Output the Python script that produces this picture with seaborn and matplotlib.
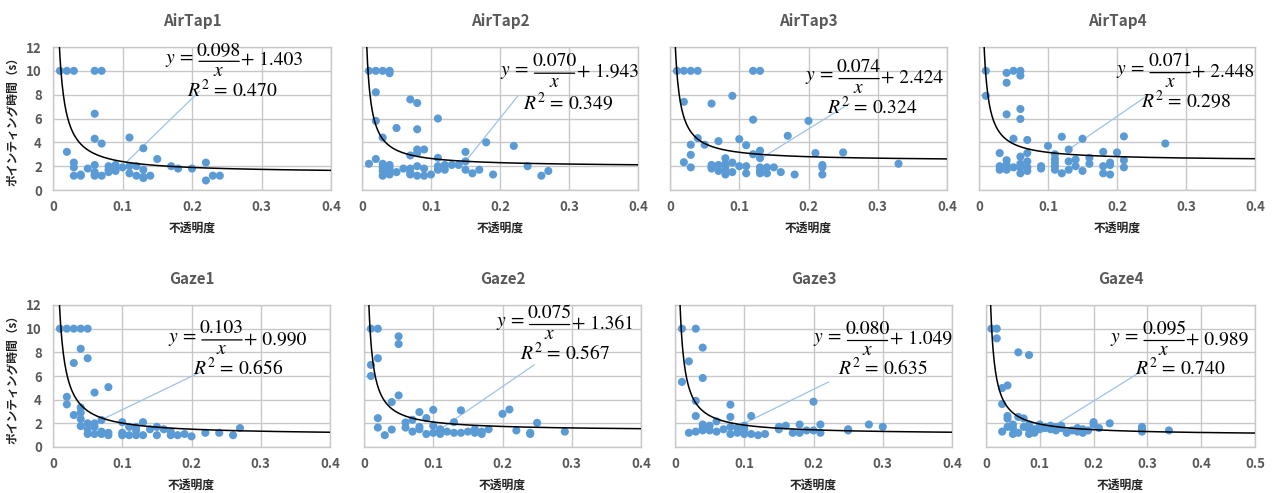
import numpy as np
import pandas as pd
import matplotlib
matplotlib.use('Agg')
import matplotlib.pyplot as plt
import matplotlib.transforms as mtransforms
import seaborn as sns

sns.set_style('white')
plt.rcParams['font.family'] = ['Noto Sans CJK JP', 'DejaVu Sans']
plt.rcParams['mathtext.fontset'] = 'stix'

# ---- data (opacity, pointing time in s) ----
airtap1_x = [0.01, 0.02, 0.03, 0.06, 0.07, 0.06, 0.06, 0.07, 0.11, 0.13, 0.02, 0.03, 0.03, 0.03,
             0.04, 0.04, 0.05, 0.06, 0.06, 0.06, 0.06, 0.07, 0.08, 0.08, 0.08, 0.09, 0.09, 0.09,
             0.10, 0.11, 0.11, 0.12, 0.12, 0.13, 0.13, 0.13, 0.14, 0.15, 0.17, 0.18, 0.20, 0.22,
             0.22, 0.23, 0.24]
airtap1_y = [10, 10, 10, 10, 10, 6.4, 4.3, 3.9, 4.4, 3.5, 3.2, 2.3, 1.9, 1.2,
             1.3, 1.2, 1.8, 2.1, 1.5, 1.3, 1.2, 1.2, 2.0, 1.7, 1.5, 2.1, 1.9, 1.6,
             1.9, 2.0, 1.4, 2.0, 1.2, 1.7, 1.1, 1.0, 1.2, 2.6, 2.0, 1.8, 1.8, 2.3,
             0.8, 1.2, 1.2]

airtap2_x = [0.01, 0.02, 0.03, 0.04, 0.04, 0.02, 0.07, 0.08, 0.02, 0.11, 0.05, 0.08, 0.03, 0.18,
             0.22, 0.08, 0.09, 0.08, 0.07, 0.15, 0.11, 0.15, 0.02, 0.01, 0.03, 0.03, 0.03, 0.03,
             0.04, 0.04, 0.04, 0.04, 0.05, 0.06, 0.07, 0.07, 0.07, 0.08, 0.08, 0.09, 0.09, 0.10,
             0.11, 0.11, 0.12, 0.12, 0.13, 0.14, 0.15, 0.16, 0.17, 0.19, 0.24, 0.26, 0.27]
airtap2_y = [10, 10, 10, 10, 9.8, 8.2, 7.6, 7.3, 5.8, 6.0, 5.2, 5.1, 4.4, 4.0,
             3.7, 3.4, 3.4, 3.1, 2.9, 3.2, 2.7, 2.4, 2.6, 2.2, 2.2, 1.9, 1.6, 1.2,
             2.1, 1.8, 1.5, 1.3, 1.5, 1.8, 1.8, 1.5, 1.3, 2.0, 1.2, 1.8, 1.2, 1.3,
             2.0, 1.7, 2.1, 1.7, 2.1, 2.1, 1.7, 1.4, 1.7, 1.3, 2.0, 1.2, 1.6]

airtap3_x = [0.01, 0.02, 0.03, 0.04, 0.12, 0.13, 0.02, 0.06, 0.09, 0.12, 0.20, 0.17, 0.04, 0.07,
             0.10, 0.03, 0.05, 0.11, 0.13, 0.12, 0.03, 0.13, 0.21, 0.25, 0.02, 0.08, 0.08, 0.09,
             0.03, 0.06, 0.06, 0.06, 0.07, 0.07, 0.08, 0.08, 0.08, 0.09, 0.10, 0.11, 0.11, 0.13,
             0.13, 0.13, 0.14, 0.14, 0.15, 0.16, 0.18, 0.22, 0.22, 0.22, 0.33]
airtap3_y = [10, 10, 10, 10, 10, 10, 7.4, 7.25, 7.9, 5.9, 5.8, 4.55, 4.35, 4.1,
             4.27, 3.8, 3.8, 3.76, 3.3, 3.0, 2.95, 2.67, 3.1, 3.15, 2.33, 2.67, 2.2, 2.3,
             1.9, 2.1, 1.9, 1.8, 2.1, 1.6, 2.0, 1.7, 1.3, 1.5, 2.0, 2.0, 1.4, 1.9,
             1.6, 1.4, 1.9, 1.4, 1.9, 1.5, 1.3, 2.1, 1.9, 1.3, 2.2]

airtap4_x = [0.01, 0.01, 0.04, 0.05, 0.06, 0.06, 0.04, 0.04, 0.06, 0.06, 0.05, 0.07, 0.12, 0.15,
             0.21, 0.27, 0.10, 0.13, 0.03, 0.07, 0.06, 0.11, 0.11, 0.11, 0.11, 0.11, 0.18, 0.20,
             0.16, 0.16, 0.14, 0.14, 0.13, 0.13, 0.04, 0.04, 0.04, 0.03, 0.03, 0.05, 0.06, 0.06,
             0.06, 0.07, 0.07, 0.07, 0.09, 0.09, 0.12, 0.15, 0.18, 0.18, 0.19, 0.19, 0.19, 0.21,
             0.21]
airtap4_y = [10, 7.9, 9.83, 10, 10, 9.6, 9.0, 6.35, 6.8, 5.96, 4.3, 4.2, 4.47, 4.3,
             4.5, 3.9, 3.7, 3.4, 3.1, 3.1, 2.8, 3.0, 2.6, 2.3, 2.0, 1.7, 3.2, 3.15,
             2.7, 2.2, 2.56, 2.0, 2.4, 1.7, 2.5, 2.1, 1.7, 2.0, 1.7, 1.9, 2.2, 1.9,
             1.4, 2.4, 1.9, 1.6, 2.0, 1.8, 1.4, 1.6, 2.0, 1.4, 2.3, 2.1, 1.3, 2.5,
             1.9]

gaze1_x = [0.01, 0.02, 0.03, 0.04, 0.05, 0.04, 0.03, 0.05, 0.06, 0.08, 0.02, 0.02, 0.04, 0.04,
           0.04, 0.04, 0.03, 0.05, 0.05, 0.05, 0.06, 0.06, 0.06, 0.07, 0.07, 0.07, 0.08, 0.08,
           0.10, 0.10, 0.10, 0.11, 0.11, 0.12, 0.12, 0.12, 0.13, 0.13, 0.14, 0.15, 0.15, 0.16,
           0.17, 0.17, 0.18, 0.19, 0.20, 0.22, 0.24, 0.26, 0.27]
gaze1_y = [10, 10, 10, 10, 10, 8.3, 7.1, 7.5, 4.6, 5.06, 4.24, 3.6, 3.34, 2.9,
           2.36, 1.77, 2.7, 2.0, 1.5, 1.1, 2.0, 1.7, 1.1, 2.28, 1.3, 1.1, 1.2, 1.0,
           2.1, 1.2, 1.0, 1.7, 1.0, 1.7, 1.4, 1.0, 2.1, 1.0, 1.5, 1.7, 1.0, 1.5,
           1.3, 1.0, 1.0, 1.1, 0.9, 1.2, 1.2, 1.0, 1.6]

gaze2_x = [0.01, 0.02, 0.05, 0.05, 0.02, 0.01, 0.01, 0.05, 0.04, 0.10, 0.14, 0.21, 0.20, 0.08,
           0.02, 0.09, 0.07, 0.06, 0.06, 0.13, 0.25, 0.02, 0.04, 0.03, 0.07, 0.08, 0.08, 0.09,
           0.10, 0.10, 0.11, 0.11, 0.11, 0.12, 0.13, 0.14, 0.15, 0.16, 0.16, 0.17, 0.17, 0.18,
           0.22, 0.24, 0.24, 0.29]
gaze2_y = [10, 10, 9.35, 8.7, 7.5, 6.94, 6.0, 4.36, 3.8, 3.14, 3.1, 3.17, 2.8, 2.95,
           2.44, 2.44, 2.3, 2.07, 1.64, 2.1, 2.04, 1.64, 1.47, 1.0, 1.3, 1.7, 1.5, 1.1,
           1.8, 1.2, 1.5, 1.3, 1.1, 1.3, 1.2, 1.2, 1.3, 1.5, 1.2, 1.3, 1.1, 1.5,
           1.4, 1.2, 1.1, 1.3]

gaze3_x = [0.01, 0.03, 0.04, 0.02, 0.04, 0.01, 0.03, 0.08, 0.20, 0.03, 0.08, 0.11, 0.06, 0.04,
           0.04, 0.04, 0.05, 0.05, 0.02, 0.03, 0.06, 0.07, 0.08, 0.08, 0.09, 0.09, 0.10, 0.10,
           0.10, 0.11, 0.12, 0.13, 0.15, 0.15, 0.16, 0.17, 0.18, 0.18, 0.19, 0.20, 0.21, 0.21,
           0.25, 0.25, 0.28, 0.30]
gaze3_y = [10, 10, 8.4, 7.24, 5.83, 5.5, 3.9, 3.58, 3.83, 2.62, 2.54, 2.62, 2.17, 1.9,
           1.6, 1.4, 1.8, 1.4, 1.2, 1.3, 1.3, 1.5, 1.7, 1.1, 1.6, 1.2, 1.8, 1.5,
           1.1, 1.1, 1.0, 1.1, 1.7, 1.5, 1.8, 1.2, 1.9, 1.2, 1.4, 1.4, 1.9, 1.2,
           1.5, 1.4, 1.9, 1.7]

gaze4_x = [0.01, 0.02, 0.02, 0.06, 0.08, 0.03, 0.04, 0.03, 0.04, 0.04, 0.06, 0.07, 0.03, 0.04,
           0.05, 0.05, 0.05, 0.06, 0.07, 0.08, 0.08, 0.08, 0.09, 0.09, 0.10, 0.10, 0.10, 0.11,
           0.11, 0.12, 0.12, 0.13, 0.13, 0.14, 0.14, 0.15, 0.16, 0.17, 0.17, 0.18, 0.18, 0.19,
           0.20, 0.20, 0.21, 0.23, 0.29, 0.29, 0.29, 0.34]
gaze4_y = [10, 10, 9.18, 8.0, 7.77, 4.98, 5.2, 3.63, 2.62, 2.4, 2.54, 2.42, 1.3, 1.7,
           1.9, 1.6, 1.1, 1.2, 1.7, 1.9, 1.5, 1.1, 1.5, 1.2, 1.9, 1.6, 1.5, 1.7,
           1.6, 1.8, 1.5, 1.7, 1.4, 1.8, 1.6, 1.2, 1.4, 1.6, 1.3, 1.5, 1.2, 1.4,
           2.1, 1.9, 1.6, 2.0, 1.7, 1.5, 1.3, 1.4]

titles = ['AirTap1', 'AirTap2', 'AirTap3', 'AirTap4', 'Gaze1', 'Gaze2', 'Gaze3', 'Gaze4']
xs = [airtap1_x, airtap2_x, airtap3_x, airtap4_x, gaze1_x, gaze2_x, gaze3_x, gaze4_x]
ys = [airtap1_y, airtap2_y, airtap3_y, airtap4_y, gaze1_y, gaze2_y, gaze3_y, gaze4_y]
# trendline y = a/x + b and R^2 as printed in the chart
fit_a = [0.098, 0.070, 0.074, 0.071, 0.103, 0.075, 0.080, 0.095]
fit_b = [1.403, 1.943, 2.424, 2.448, 0.990, 1.361, 1.049, 0.989]
fit_r2 = [0.470, 0.349, 0.324, 0.298, 0.656, 0.567, 0.635, 0.740]
x_max = [0.4, 0.4, 0.4, 0.4, 0.4, 0.4, 0.4, 0.5]

# ---- layout (pixel boxes of each plot area, label placement) ----
W, H = 1273, 493
boxes = [(53, 47, 331, 190), (362, 47, 638, 190), (670, 47, 947, 190), (979, 47, 1255, 190),
         (53, 305, 330, 447), (364, 305, 641, 447), (675, 305, 952, 447), (986, 305, 1255, 447)]
# centre of the fraction bar and of the R^2 text, in data units
eq_pos = [(0.239, 10.8), (0.279, 9.8), (0.273, 9.35), (0.277, 9.85),
          (0.244, 9.05), (0.268, 10.35), (0.278, 9.0), (0.331, 9.0)]
r2_pos = [(0.258, 8.4), (0.298, 7.3), (0.292, 7.0), (0.300, 7.5),
          (0.268, 6.65), (0.290, 7.9), (0.300, 6.65), (0.362, 6.65)]
leader = [((0.105, 2.3), (0.211, 8.3)), ((0.15, 2.4), (0.226, 7.9)),
          ((0.13, 2.6), (0.259, 7.25)), ((0.13, 3.4), (0.246, 8.0)),
          ((0.07, 2.3), (0.217, 6.45)), ((0.11, 1.5), (0.246, 6.95)),
          ((0.10, 2.0), (0.222, 5.5)), ((0.13, 1.9), (0.289, 6.4))]

DOT = '#5B9BD5'
GRID = '#C8C8C8'
TICK = '#595959'
serif = dict(family='STIXGeneral', fontsize=14, color='black', zorder=5)


def draw_equation(ax, cx, cy, a, b):
    """Excel-like trendline label: y = a/x + b with a stacked fraction."""
    def off(dx, dy):
        return mtransforms.offset_copy(ax.transData, fig=fig, x=dx, y=dy, units='points')

    half = 14.5
    ax.text(cx, cy, r'$y$ =', ha='right', va='center', transform=off(-half - 4, 0.5), **serif)
    ax.text(cx, cy, f'{a:.3f}', ha='center', va='bottom', transform=off(0, 2), **serif)
    ax.text(cx, cy, r'$x$', ha='center', va='top', transform=off(0, -0.8), **serif)
    ax.text(cx, cy, f'+ {b:.3f}', ha='left', va='center', transform=off(half + 1.5, 0.5), **serif)
    ax.annotate('', xy=(cx, cy), xycoords=off(half, 0), xytext=(cx, cy), textcoords=off(-half, 0),
                arrowprops=dict(arrowstyle='-', color='black', lw=0.9, shrinkA=0, shrinkB=0))


fig = plt.figure(figsize=(W / 100, H / 100), dpi=100)

for i, title in enumerate(titles):
    l, t, r, b = boxes[i]
    ax = fig.add_axes([l / W, 1 - b / H, (r - l) / W, (b - t) / H])
    df = pd.DataFrame({'opacity': xs[i], 'time': ys[i]})

    sns.scatterplot(data=df, x='opacity', y='time', ax=ax, color=DOT, s=34,
                    edgecolor='none', linewidth=0, zorder=3)

    xf = np.linspace(0.004, x_max[i], 400)
    ax.plot(xf, fit_a[i] / xf + fit_b[i], color='black', lw=1.1, zorder=4)

    (x0, y0), (x1, y1) = leader[i]
    ax.plot([x0, x1], [y0, y1], color='#9DC3E6', lw=0.9, zorder=2)

    ax.set_xlim(0, x_max[i])
    ax.set_ylim(0, 12)

    draw_equation(ax, eq_pos[i][0], eq_pos[i][1], fit_a[i], fit_b[i])
    rx, ry = r2_pos[i]
    ax.text(rx, ry, rf'$R^2$ = {fit_r2[i]:.3f}', ha='center', va='center', **serif)

    ax.set_xticks(np.arange(0, x_max[i] + 0.01, 0.1))
    ax.set_xticklabels(['0'] + [f'{v:.1f}' for v in np.arange(0.1, x_max[i] + 0.01, 0.1)])
    ax.set_yticks(range(0, 13, 2))
    ax.grid(True, color=GRID, lw=1)
    ax.set_axisbelow(True)
    for sp in ax.spines.values():
        sp.set_color(GRID)
        sp.set_linewidth(1)
    ax.tick_params(length=0, labelsize=9.5, labelcolor=TICK)
    ax.tick_params(axis='x', pad=7)
    ax.tick_params(axis='y', pad=8)
    for lab in ax.get_xticklabels() + ax.get_yticklabels():
        lab.set_fontweight('bold')

    ax.set_xlabel('不透明度', fontsize=8.5, fontweight='bold', color='#222222', labelpad=6)
    if i % 4 == 0:
        ax.set_ylabel('ポインティング時間（s）', fontsize=8.5, fontweight='bold',
                      color='#222222', labelpad=5)
    else:
        ax.set_ylabel('')
        ax.set_yticklabels([])
    ax.set_title(title, fontsize=11, fontweight='bold', color=TICK, pad=15)

fig.savefig('out.png', dpi=100, facecolor='white')
